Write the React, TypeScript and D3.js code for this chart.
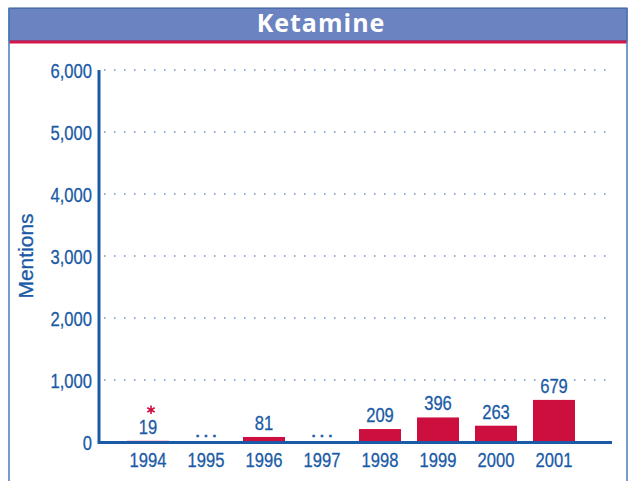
import * as d3 from 'd3';

const years = ['1994', '1995', '1996', '1997', '1998', '1999', '2000', '2001'];
// null = not reported ("...")
const mentions: (number | null)[] = [19, null, 81, null, 209, 396, 263, 679];
const flagged = ['1994']; // estimate marked with an asterisk
const yTicks = [0, 1000, 2000, 3000, 4000, 5000, 6000];

const W = 634;
const H = 481;
const blue = '#1a5aa6';
const red = '#cc0f3f';
const font = '"Liberation Sans", Arial, sans-serif';
const SX = 0.79; // squeeze to mimic the condensed face

function CText({ x, y, anchor = 'middle', size = 21, fill = blue, children }: any) {
  return (
    <text transform={`translate(${x},${y}) scale(${SX},1)`} textAnchor={anchor} fill={fill}
      stroke={fill} strokeWidth={0.3} fontFamily={font} fontSize={size}>{children}</text>
  );
}

function App() {
  const y = d3.scaleLinear().domain([0, 6000]).range([442, 70]);
  const x = d3.scaleBand().domain(years).range([119, 583]).paddingInner(0.276).paddingOuter(0.138);
  const fmt = d3.format(',');
  const star = d3.symbol(d3.symbolAsterisk).size(50)();

  return (
    <svg width={W} height={H} style={{ position: 'absolute', left: 0, top: 0 }}>
      {/* frame and title band */}
      <rect x={9} y={8} width={618} height={33} fill="#6b83c0" stroke="#2d5597" strokeWidth={1} />
      <line x1={9} x2={627} y1={42} y2={42} stroke="#d6154a" strokeWidth={3} />
      <line x1={9} x2={9} y1={8} y2={H} stroke="#4a78b8" strokeWidth={1.5} />
      <line x1={627} x2={627} y1={8} y2={H} stroke="#4a78b8" strokeWidth={1.5} />
      <text x={321} y={32} textAnchor="middle" fill="#fff" fontFamily='"Open Sans", sans-serif'
        fontWeight="bold" fontSize={25} letterSpacing={1}>Ketamine</text>

      {/* gridlines */}
      {yTicks.filter(t => t > 0).map(t => (
        <line key={t} x1={104} x2={606} y1={y(t)} y2={y(t)} stroke="#6f93c8" strokeWidth={1.5}
          strokeDasharray="1.5 8.5" />
      ))}

      {/* y tick labels */}
      {yTicks.map(t => (
        <CText key={t} x={92} y={y(t) + 8} anchor="end">{fmt(t)}</CText>
      ))}

      <text transform={`translate(33,${(y(0) + y(6000)) / 2}) rotate(-90)`} textAnchor="middle" fill={blue}
        stroke={blue} strokeWidth={0.3} fontFamily={font} fontSize={21}>Mentions</text>

      {/* bars */}
      {years.map((yr, i) => {
        const v = mentions[i];
        const cx = x(yr)! + x.bandwidth() / 2;
        if (v == null) {
          return (
            <text key={yr} x={cx + 1.5} y={y(0) - 5} textAnchor="middle" fill={blue} stroke={blue}
              strokeWidth={0.6} fontFamily={font} fontSize={19} letterSpacing={3}>...</text>
          );
        }
        const labelY = y(v) - 7;
        return (
          <g key={yr}>
            <rect x={x(yr)} y={y(v)} width={x.bandwidth()} height={y(0) - y(v)} fill={red} />
            <CText x={cx} y={labelY}>{v}</CText>
            {flagged.includes(yr) && (
              <path d={star!} transform={`translate(${cx + 3},${labelY - 24})`} fill="none" stroke={red}
                strokeWidth={1.6} />
            )}
          </g>
        );
      })}

      {/* axes */}
      <line x1={99} x2={99} y1={y(6000)} y2={y(0) + 2} stroke={blue} strokeWidth={3} />
      <line x1={98} x2={612} y1={y(0) + 0.5} y2={y(0) + 0.5} stroke={blue} strokeWidth={3} />

      {years.map(yr => (
        <CText key={yr} x={x(yr)! + x.bandwidth() / 2} y={467}>{yr}</CText>
      ))}
    </svg>
  );
}

export default App;
